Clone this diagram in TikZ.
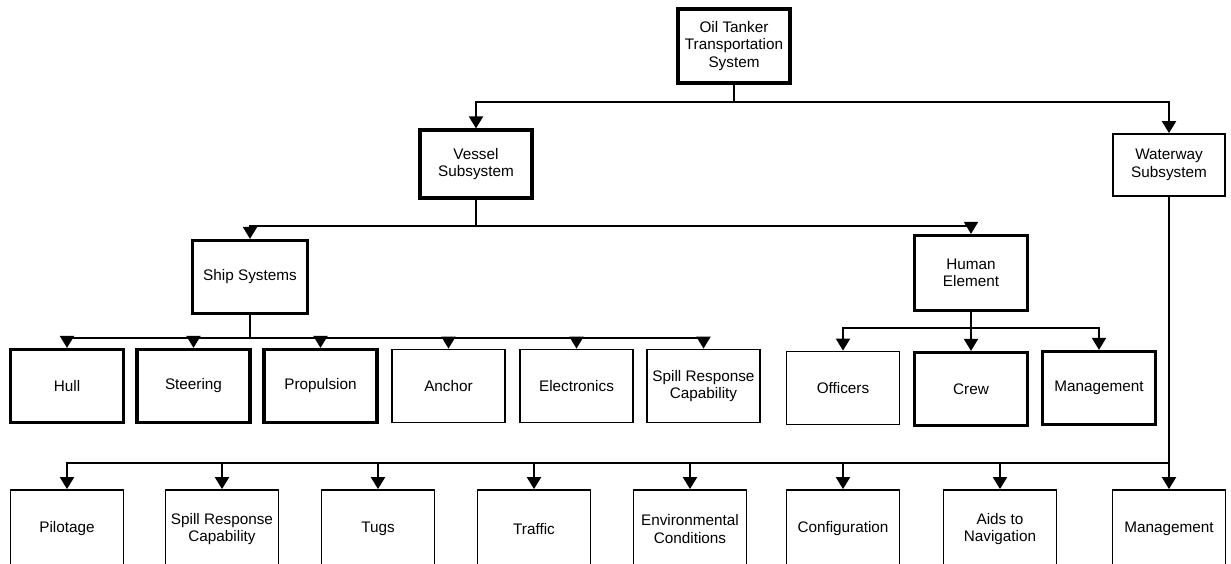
\documentclass[tikz,border=0pt]{standalone}
\usepackage{fontspec}
\setmainfont{Liberation Sans}
\usetikzlibrary{arrows.meta}
\tikzset{
  box/.style={draw, line width=1.8pt, fill=white, align=center, inner sep=2pt,
    minimum width=113pt, minimum height=73pt},
  heavybox/.style={box, line width=3.2pt},
  lowbox/.style={box, minimum height=78pt},
  >={Triangle[width=14pt,length=12pt]},
}

\begin{document}
\begin{tikzpicture}[x=1pt, y=-1pt, line width=2pt]
  \fontsize{15.3}{17.5}\selectfont
  \clip (0,0) rectangle (1231,563);

  % top levels
  \node[heavybox, minimum width=112pt, minimum height=74pt] (oil) at (734,46) {Oil Tanker\\Transportation\\System};
  \node[heavybox, minimum width=112pt, minimum height=68pt] (vessel) at (476,164) {Vessel\\Subsystem};
  \node[box, minimum width=112pt, minimum height=62pt] (waterway) at (1169,165) {Waterway\\Subsystem};
  \node[heavybox, minimum width=115pt] (ship) at (250,277) {Ship Systems};
  \node[heavybox, minimum height=75pt] (human) at (971,273) {Human\\Element};

  % ship systems row
  \node[heavybox] (hull) at (67,386) {Hull};
  \node[heavybox] (steering) at (193.5,386) {Steering};
  \node[heavybox] (propulsion) at (320.5,386) {Propulsion};
  \node[box] (anchor) at (448.5,386) {Anchor};
  \node[box] (electronics) at (576.5,386) {Electronics};
  \node[box] (spill) at (703.5,386) {Spill Response\\Capability};

  % human element row
  \node[box] (officers) at (843,388) {Officers};
  \node[heavybox] (crew) at (971,389) {Crew};
  \node[heavybox] (hmanage) at (1099,388) {Management};

  % waterway row (cut off by the page edge)
  \node[lowbox] (pilotage) at (67,529) {Pilotage};
  \node[lowbox] (wspill) at (222,529) {Spill Response\\Capability};
  \node[lowbox] (tugs) at (378,529) {Tugs};
  \node[lowbox] (traffic) at (534,529) {Traffic};
  \node[lowbox] (environ) at (690,529) {Environmental\\Conditions};
  \node[lowbox] (config) at (843,529) {Configuration};
  \node[lowbox] (aids) at (1000,529) {Aids to\\Navigation};
  \node[lowbox] (wmanage) at (1169,529) {Management};

  % connectors
  \draw (oil.south) -- ++(0,17) coordinate (b1);
  \draw[->] (b1) -| (vessel.north); % oil->vessel
  \draw[->] (b1) -| (waterway.north); % oil->waterway

  \draw (vessel.south) -- ++(0,26) coordinate (b2);
  \draw[->] (b2) -| (ship.north);
  \draw[->] (b2) -| (human.north);

  \draw (ship.south) -- ++(0,23) coordinate (b3);
  \foreach \n in {hull,steering,propulsion,anchor,electronics,spill}
    \draw[->] (b3) -| (\n.north);

  \draw (human.south) -- ++(0,16) coordinate (b4);
  \foreach \n in {officers,crew,hmanage}
    \draw[->] (b4) -| (\n.north);

  \draw[->] (waterway.south) -- (wmanage.north); % waterway->management
  \coordinate (b5) at (waterway.south |- 0,463);
  \foreach \n in {pilotage,wspill,tugs,traffic,environ,config,aids}
    \draw[->] (b5) -| (\n.north);
\end{tikzpicture}
\end{document}
